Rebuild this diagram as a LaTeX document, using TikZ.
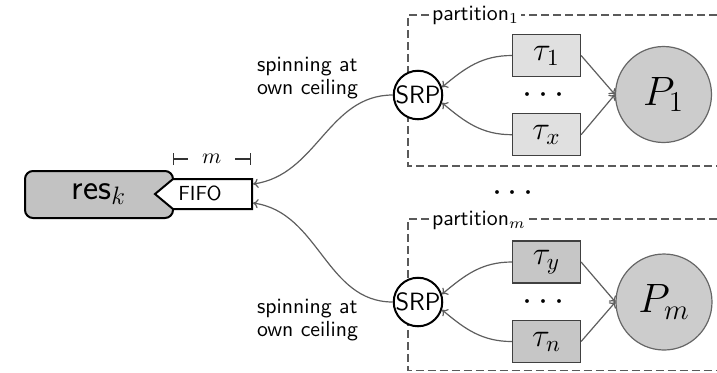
\documentclass[tikz,border=0pt]{standalone}
\usepackage{fix-cm}
\usepackage{fontspec}
\usetikzlibrary{arrows.meta}
\definecolor{resgray}{HTML}{C2C2C2}
\definecolor{pgray}{HTML}{CCCCCC}
\definecolor{tlight}{HTML}{E0E0E0}
\definecolor{tdark}{HTML}{C6C6C6}
\definecolor{linegray}{HTML}{5E5E5E}
\definecolor{dashgray}{HTML}{5A5A5A}
\begin{document}
\begin{tikzpicture}[x=0.5pt, y=-0.5pt,
  conn/.style={draw=linegray, line width=0.6pt, -{To[length=2.6pt,width=4.6pt]}},
  part/.style={draw=dashgray, line width=0.6pt, dash pattern=on 4pt off 2pt},
  taskL/.style={draw=black!75, fill=tlight, line width=0.6pt, minimum width=34pt, minimum height=21pt, inner sep=0pt, font=\fontsize{16.5}{19}\selectfont},
  taskD/.style={taskL, fill=tdark},
  srp/.style={circle, draw=black, line width=1pt, fill=white, minimum size=24pt, inner sep=0pt, font=\fontsize{12.5}{14}\selectfont\sffamily},
  proc/.style={circle, draw=black!60, fill=pgray, line width=0.6pt, minimum size=48pt, inner sep=0pt, font=\fontsize{20.5}{24}\selectfont},
  lbl/.style={font=\fontsize{10.9}{11.6}\selectfont\sffamily, align=left, inner sep=0pt},
  plabel/.style={fill=white, inner xsep=1pt, inner ysep=0pt, font=\fontsize{10.9}{13}\selectfont\sffamily},
  dotsl/.style={font=\fontsize{18}{20}\selectfont, inner sep=0pt},
  resbox/.style={draw=black, fill=resgray, line width=1pt},
  fifobox/.style={draw=black, fill=white, line width=1pt},
  dimline/.style={draw=black!80, line width=0.6pt, {Bar[width=6pt]}-{Bar[width=6pt]}}
]
\useasboundingbox (0,0) rectangle (717,372);

% partitions
\draw[part] (717,15) -- (408,15) -- (408,166) -- (717,166);
\draw[part] (717,219) -- (408,219) -- (408,370.5) -- (717,370.5);
\node[plabel, anchor=west] (pl1) at (429.7,15) {partition$_1$};
\node[plabel, anchor=west] (plm) at (429.7,220) {partition$_m$};

% resource and FIFO
\draw[resbox, rounded corners=4pt] (173,194) -- (173,171) -- (25,171) -- (25,218) -- (173,218) -- cycle;
\draw[fifobox] (173,179) -- (252,179) -- (252,209) -- (173,209) -- (155,194) -- cycle;
\node[anchor=base, inner sep=0pt, font=\fontsize{18}{20}\selectfont\sffamily] (res) at (99,199) {res$_k$};
\node[anchor=base, inner sep=0pt, font=\fontsize{10.2}{12}\selectfont\sffamily] (fifo) at (200,200.5) {FIFO};
\coordinate (fifoA) at (253,184);
\coordinate (fifoB) at (253,203);
\coordinate (mL) at (172.5,159);
\coordinate (mR) at (251,159);
\draw[dimline] (mL) -- node[fill=white, inner xsep=7pt, inner ysep=1pt, font=\fontsize{10.9}{13}\selectfont] (mlab) {$m$} (mR);

% partition 1
\node[srp] (srp1) at (418,95) {SRP};
\node[taskL] (tau1) at (546.5,55.5) {$\tau_1$};
\node[taskL] (taux) at (546.5,134.7) {$\tau_x$};
\node[dotsl] (d1) at (543.5,95) {$\cdots$};
\node[proc] (P1) at (663.5,94.5) {$P_1$};

% partition m
\node[srp] (srp2) at (418,302) {SRP};
\node[taskD] (tauy) at (546.5,262) {$\tau_y$};
\node[taskD] (taun) at (546.5,341.5) {$\tau_n$};
\node[dotsl] (d2) at (543.5,302) {$\cdots$};
\node[proc] (Pm) at (664,302) {$P_m$};

\node[dotsl] (dmid) at (513,193) {$\cdots$};

% labels
\node[lbl] (spin1) at (307.5,78) {spinning at\\own ceiling};
\node[lbl] (spin2) at (307.5,320) {spinning at\\own ceiling};

% connectors
\draw[conn] (tau1.west) to[out=180,in=40] (srp1.18);
\draw[conn] (taux.west) to[out=180,in=-40] (srp1.-18);
\draw[conn] (tau1.east) -- (P1.west);
\draw[conn] (taux.east) -- (P1.west);
\draw[conn] (tauy.west) to[out=180,in=40] (srp2.18);
\draw[conn] (taun.west) to[out=180,in=-40] (srp2.-18);
\draw[conn] (tauy.east) -- (Pm.west);
\draw[conn] (taun.east) -- (Pm.west);
\draw[conn] (srp1.west) to[out=180,in=8] (fifoA);
\draw[conn] (srp2.west) to[out=180,in=-8] (fifoB);
\end{tikzpicture}
\end{document}
